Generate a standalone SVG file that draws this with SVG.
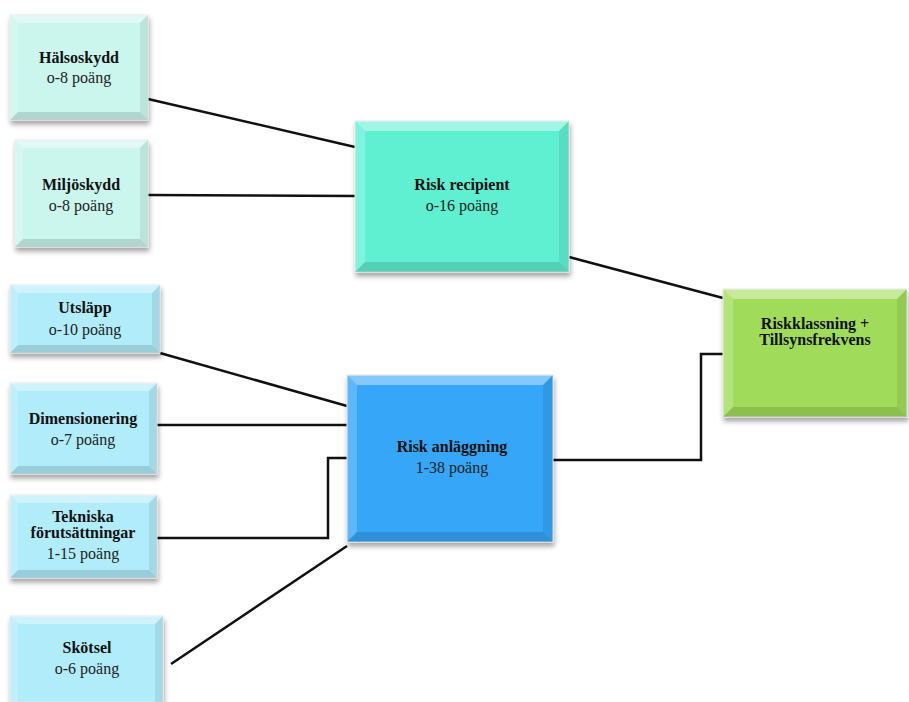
<svg xmlns="http://www.w3.org/2000/svg" width="909" height="702" viewBox="0 0 909 702">
<defs>
<filter id="sh" x="-10%" y="-10%" width="125%" height="130%">
<feDropShadow dx="1" dy="4" stdDeviation="2.5" flood-color="#000" flood-opacity="0.35"/>
</filter>
</defs>
<style>
.t{font-family:"Liberation Serif","DejaVu Serif",serif;font-weight:bold;font-size:16px;fill:#111;text-anchor:middle}
.s{font-family:"Liberation Serif","DejaVu Serif",serif;font-size:16px;fill:#222;text-anchor:middle}
.hl{fill:#fff;opacity:0.4}
.hl2{fill:#fff;opacity:0.2}
.dk{fill:#000;opacity:0.08}
.dk2{fill:#000;opacity:0.13}
.c{fill:none;stroke:#111;stroke-width:2.5}
.bx{stroke:#e8e8e8;stroke-width:1}
</style>
<rect width="909" height="702" fill="#fff"/>
<g id="connectors">
<line class="c" x1="148" y1="99" x2="355" y2="147"/>
<line class="c" x1="148" y1="195" x2="355" y2="196"/>
<line class="c" x1="569" y1="257" x2="723" y2="298"/>
<line class="c" x1="160" y1="353" x2="347" y2="406"/>
<line class="c" x1="157" y1="425" x2="347" y2="425"/>
<polyline class="c" points="157,538 328,538 328,458 347,458"/>
<line class="c" x1="171" y1="664" x2="347" y2="546"/>
<polyline class="c" points="553,460 701,460 701,354 723,354"/>
</g>
<g id="halsoskydd">
<rect class="bx" x="10" y="15" width="138" height="105" fill="#cbf6ee" filter="url(#sh)"/>
<polygon class="hl" points="10,15 148,15 140,23 18,23"/><polygon class="hl2" points="10,15 18,23 18,112 10,120"/>
<polygon class="dk" points="148,15 148,120 140,112 140,23"/><polygon class="dk2" points="10,120 148,120 140,112 18,112"/>
<text class="t" x="79" y="63">Hälsoskydd</text><text class="s" x="79" y="83">o-8 poäng</text>
</g>
<g id="miljoskydd">
<rect class="bx" x="15" y="140" width="133" height="107" fill="#cbf6ee" filter="url(#sh)"/>
<polygon class="hl" points="15,140 148,140 140,148 23,148"/><polygon class="hl2" points="15,140 23,148 23,239 15,247"/>
<polygon class="dk" points="148,140 148,247 140,239 140,148"/><polygon class="dk2" points="15,247 148,247 140,239 23,239"/>
<text class="t" x="81" y="190">Miljöskydd</text><text class="s" x="81" y="211">o-8 poäng</text>
</g>
<g id="risk-recipient">
<rect class="bx" x="355" y="121" width="214" height="151" fill="#5ff0d2" filter="url(#sh)"/>
<polygon class="hl" points="355,121 569,121 559,131 365,131"/><polygon class="hl2" points="355,121 365,131 365,262 355,272"/>
<polygon class="dk" points="569,121 569,272 559,262 559,131"/><polygon class="dk2" points="355,272 569,272 559,262 365,262"/>
<text class="t" x="462" y="190">Risk recipient</text><text class="s" x="462" y="211">o-16 poäng</text>
</g>
<g id="riskklassning">
<rect class="bx" x="723" y="289" width="184" height="128" fill="#a0dc5a" filter="url(#sh)"/>
<polygon class="hl" points="723,289 907,289 897,299 733,299"/><polygon class="hl2" points="723,289 733,299 733,407 723,417"/>
<polygon class="dk" points="907,289 907,417 897,407 897,299"/><polygon class="dk2" points="723,417 907,417 897,407 733,407"/>
<text class="t" x="815" y="329">Riskklassning +</text><text class="t" x="815" y="345">Tillsynsfrekvens</text>
</g>
<g id="risk-anlaggning">
<rect class="bx" x="347" y="375" width="206" height="167" fill="#36a6f8" filter="url(#sh)"/>
<polygon class="hl" points="347,375 553,375 543,385 357,385"/><polygon class="hl2" points="347,375 357,385 357,532 347,542"/>
<polygon class="dk" points="553,375 553,542 543,532 543,385"/><polygon class="dk2" points="347,542 553,542 543,532 357,532"/>
<text class="t" x="452" y="452">Risk anläggning</text><text class="s" x="452" y="473">1-38 poäng</text>
</g>
<g id="utslapp">
<rect class="bx" x="10" y="285" width="150" height="68" fill="#b0ecfa" filter="url(#sh)"/>
<polygon class="hl" points="10,285 160,285 152,293 18,293"/><polygon class="hl2" points="10,285 18,293 18,345 10,353"/>
<polygon class="dk" points="160,285 160,353 152,345 152,293"/><polygon class="dk2" points="10,353 160,353 152,345 18,345"/>
<text class="t" x="85" y="313">Utsläpp</text><text class="s" x="85" y="335">o-10 poäng</text>
</g>
<g id="dimensionering">
<rect class="bx" x="10" y="383" width="147" height="91" fill="#b0ecfa" filter="url(#sh)"/>
<polygon class="hl" points="10,383 157,383 149,391 18,391"/><polygon class="hl2" points="10,383 18,391 18,466 10,474"/>
<polygon class="dk" points="157,383 157,474 149,466 149,391"/><polygon class="dk2" points="10,474 157,474 149,466 18,466"/>
<text class="t" x="83" y="424">Dimensionering</text><text class="s" x="83" y="445">o-7 poäng</text>
</g>
<g id="tekniska">
<rect class="bx" x="10" y="495" width="147" height="83" fill="#b0ecfa" filter="url(#sh)"/>
<polygon class="hl" points="10,495 157,495 149,503 18,503"/><polygon class="hl2" points="10,495 18,503 18,570 10,578"/>
<polygon class="dk" points="157,495 157,578 149,570 149,503"/><polygon class="dk2" points="10,578 157,578 149,570 18,570"/>
<text class="t" x="83" y="522">Tekniska</text><text class="t" x="83" y="538">förutsättningar</text><text class="s" x="83" y="559">1-15 poäng</text>
</g>
<g id="skotsel">
<rect class="bx" x="10" y="616" width="153" height="86" fill="#b0ecfa" filter="url(#sh)"/>
<polygon class="hl" points="10,616 163,616 155,624 18,624"/><polygon class="hl2" points="10,616 18,624 18,702 10,702"/>
<polygon class="dk" points="163,616 163,702 155,702 155,624"/>
<text class="t" x="87" y="653">Skötsel</text><text class="s" x="87" y="674">o-6 poäng</text>
</g>
</svg>
